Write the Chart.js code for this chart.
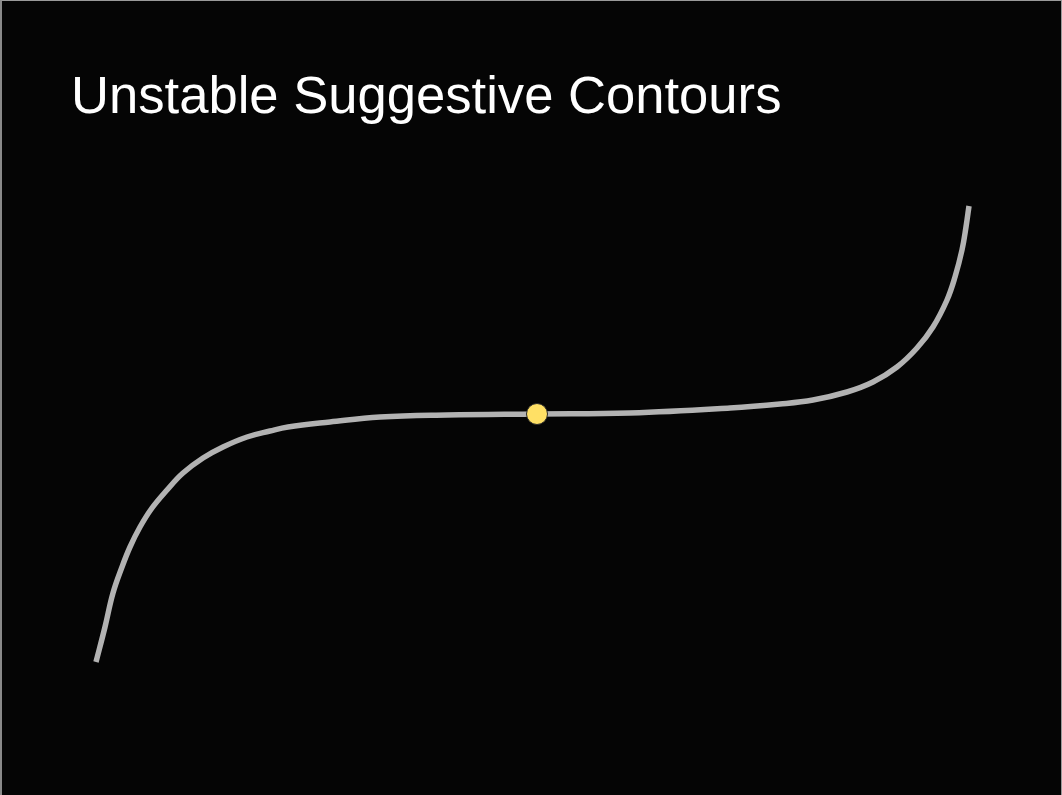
<!DOCTYPE html>
<html>
<head>
<meta charset="utf-8">
<script src="https://cdn.jsdelivr.net/npm/chart.js@4"></script>
<style>
  html, body { margin: 0; padding: 0; background: #000; }
  #slide {
    position: relative;
    width: 1059px;
    height: 794px;
    background: #050505;
    border-top: 1px solid #9a9a9a;
    border-left: 2px solid #8a8a8a;
    border-right: 1px solid #9a9a9a;
    overflow: hidden;
  }
  #title {
    position: absolute;
    left: 69px;
    top: 62px;
    margin: 0;
    font-family: "Liberation Sans", Arial, sans-serif;
    font-weight: normal;
    font-size: 52.6px;
    line-height: 64px;
    color: #ffffff;
    white-space: nowrap;
  }
  canvas { position: absolute; left: -2px; top: -1px; }
</style>
</head>
<body>
<div id="slide">
  <h1 id="title">Unstable Suggestive Contours</h1>
  <canvas id="chart" width="1062" height="795"></canvas>
</div>
<script>
// curve samples (1 unit = 100 px, origin at the yellow point)
const curveX = [-4.41, -4.32, -4.24, -4.15, -4.07, -3.97, -3.85, -3.70, -3.54, -3.34, -3.14, -2.90, -2.67, -2.49,
  -2.07, -1.57, -0.90, 0, 0.93, 1.93, 2.43, 2.76, 3.10, 3.36, 3.60, 3.80, 3.96, 4.10, 4.18, 4.25, 4.29, 4.32];
const curveY = [-2.48, -2.13, -1.79, -1.53, -1.33, -1.13, -0.94, -0.76, -0.59, -0.44, -0.33, -0.23, -0.17, -0.13,
  -0.08, -0.03, -0.01, 0, 0.01, 0.06, 0.10, 0.14, 0.22, 0.32, 0.47, 0.66, 0.87, 1.14, 1.37, 1.64, 1.87, 2.08];
const markerX = [0];
const markerY = [0];

const toPoints = (xs, ys) => xs.map((x, i) => ({ x, y: ys[i] }));

new Chart(document.getElementById('chart').getContext('2d'), {
  type: 'scatter',
  data: {
    datasets: [
      {
        label: 'point',
        data: toPoints(markerX, markerY),
        pointRadius: 10.5,
        pointBackgroundColor: '#ffe065',
        pointBorderColor: '#2a2a2a',
        pointBorderWidth: 1,
        showLine: false,
      },
      {
        label: 'contour',
        data: toPoints(curveX, curveY),
        showLine: true,
        borderColor: '#b3b3b3',
        borderWidth: 5.5,
        pointRadius: 0,
        tension: 0.4,
        borderCapStyle: 'butt',
      },
    ],
  },
  options: {
    responsive: false,
    animation: false,
    layout: { padding: 0, autoPadding: false },
    plugins: { legend: { display: false }, tooltip: { enabled: false }, title: { display: false } },
    scales: {
      x: { type: 'linear', min: -5.37, max: 5.25, display: false },
      y: { type: 'linear', min: -3.81, max: 4.14, display: false },
    },
  },
});
</script>
</body>
</html>
